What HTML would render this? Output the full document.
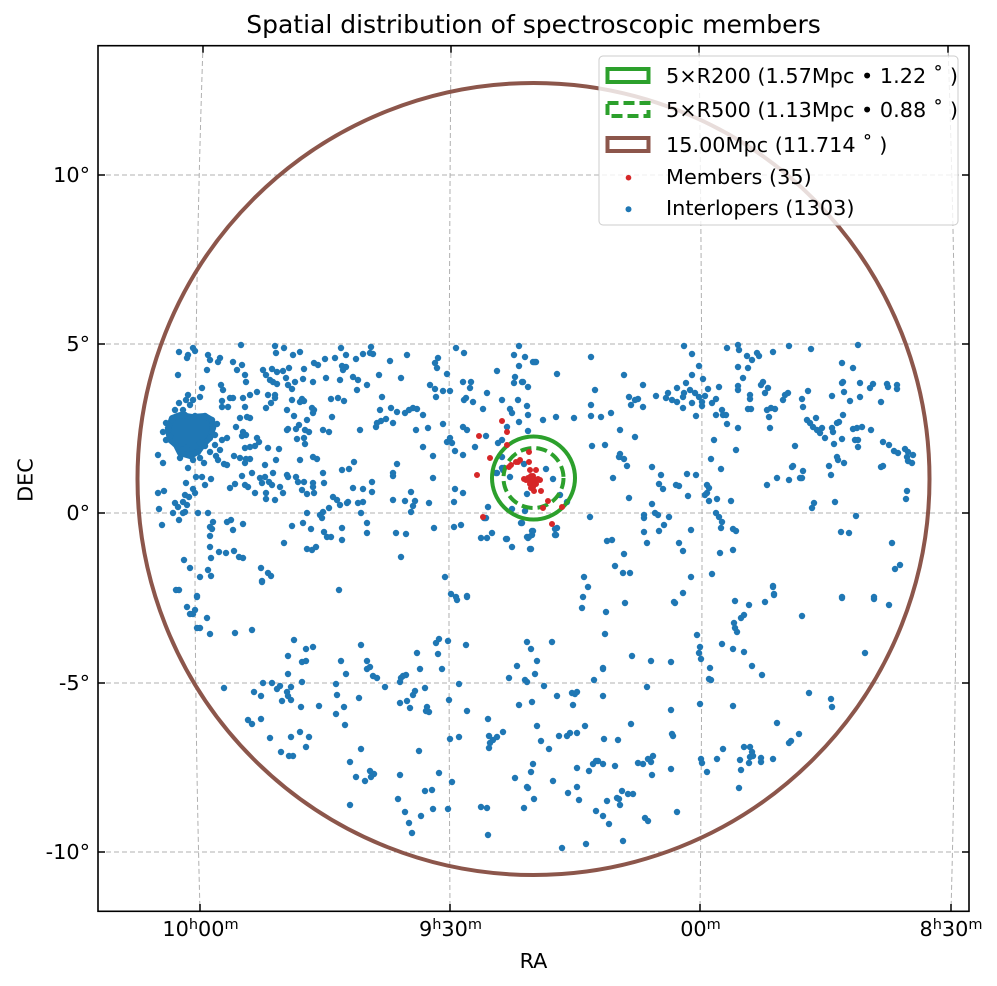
<!DOCTYPE html>
<html><head><meta charset="utf-8"><style>
html,body{margin:0;padding:0;background:#fff;}
svg{display:block;}
text{font-family:"DejaVu Sans","Liberation Sans",sans-serif;fill:#000;}
</style></head><body>
<svg width="997" height="986" viewBox="0 0 997 986" xmlns="http://www.w3.org/2000/svg">
<defs><clipPath id="ax"><rect x="98" y="45.7" width="871" height="866"/></clipPath></defs>
<rect width="997" height="986" fill="#fff"/>
<g clip-path="url(#ax)">
<g stroke="#b0b0b0" stroke-width="1" stroke-dasharray="5 3" fill="none">
<path d="M98 175H969M98 344H969M98 513H969M98 683H969M98 852H969"/>
<path d="M203 45Q188.5 478 200 911"/>
<path d="M451 45Q447.5 478 450 911"/>
<path d="M699 45Q704.5 478 700 911"/>
<path d="M948 45Q962.5 478 951 911"/>
</g>
<path fill="#1f77b4" stroke="#1f77b4" stroke-width="6" stroke-linejoin="round" d="M172 418L180 415L192 417L205 416L212 420L213 428L210 438L203 445L198 452L190 456L180 453L176 445L170 440L168 430Z"/>
<path fill="none" stroke="#1f77b4" stroke-width="6.4" stroke-linecap="round" d="M176 590h.01M179 590h.01M197 596h.01M262 582h.01M339 590h.01M187 607h.01M195 610h.01M190 614h.01M193 614h.01M207 618h.01M197 628h.01M200 628h.01M210 634h.01M235 633h.01M252 630h.01M294 640h.01M288 656h.01M306 649h.01M313 647h.01M302 662h.01M306 661h.01M288 674h.01M302 682h.01M263 683h.01M272 683h.01M224 688h.01M254 692h.01M261 696h.01M277 689h.01M280 686h.01M287 692h.01M291 687h.01M288 696h.01M291 700h.01M282 701h.01M301 707h.01M319 706h.01M361 645h.01M341 661h.01M346 674h.01M367 661h.01M367 669h.01M370 667h.01M373 676h.01M377 678h.01M385 687h.01M336 684h.01M337 695h.01M344 707h.01M359 698h.01M336 714h.01M345 725h.01M248 720h.01M252 724h.01M261 719h.01M270 738h.01M291 737h.01M300 732h.01M309 737h.01M306 747h.01M281 752h.01M289 756h.01M293 756h.01M361 749h.01M350 762h.01M356 777h.01M365 781h.01M370 771h.01M374 774h.01M371 777h.01M350 805h.01M400 775h.01M398 799h.01M405 812h.01M409 823h.01M412 833h.01M421 816h.01M425 791h.01M432 790h.01M433 809h.01M439 773h.01M419 751h.01M400 682h.01M403 676h.01M406 675h.01M401 678h.01M417 653h.01M420 669h.01M425 688h.01M415 691h.01M413 695h.01M407 701h.01M400 703h.01M410 708h.01M427 707h.01M426 711h.01M429 712h.01M436 643h.01M439 639h.01M438 654h.01M442 669h.01M448 641h.01M449 700h.01M459 684h.01M467 711h.01M450 739h.01M459 737h.01M452 782h.01M448 809h.01M466 645h.01M451 594h.01M457 600h.01M467 596h.01M488 719h.01M489 736h.01M493 740h.01M497 737h.01M490 743h.01M489 748h.01M503 732h.01M481 807h.01M487 808h.01M488 835h.01M509 678h.01M517 666h.01M525 680h.01M527 682h.01M527 642h.01M531 649h.01M537 661h.01M535 674h.01M532 702h.01M519 705h.01M537 726h.01M533 764h.01M531 772h.01M515 778h.01M527 787h.01M528 788h.01M534 799h.01M524 808h.01
M588 587h.01M583 597h.01M582 608h.01M606 612h.01M625 603h.01M674 602h.01M675 603h.01M683 593h.01M605 634h.01M697 635h.01M700 647h.01M699 653h.01M701 659h.01M710 668h.01M709 679h.01M711 680h.01M735 601h.01M749 605h.01M765 602h.01M773 586h.01M774 594h.01M744 615h.01M741 618h.01M734 623h.01M735 628h.01M737 632h.01M722 644h.01M733 649h.01M744 652h.01M752 666h.01M762 675h.01M802 616h.01M842 598h.01M874 599h.01M889 605h.01M865 653h.01M809 693h.01M831 699h.01M832 707h.01M777 723h.01M799 734h.01M791 741h.01M789 743h.01M744 747h.01M750 747h.01M752 752h.01M753 756h.01M750 757h.01M761 758h.01M761 762h.01M749 763h.01M740 760h.01M741 770h.01M773 759h.01M739 788h.01M723 749h.01M717 759h.01M701 759h.01M702 763h.01M707 772h.01M700 704h.01M733 706h.01M552 642h.01M544 686h.01M557 696h.01M572 693h.01M575 694h.01M577 692h.01M573 705h.01M603 696h.01M594 680h.01M603 668h.01M603 669h.01M632 656h.01M651 661h.01M671 662h.01M647 687h.01M541 741h.01M549 749h.01M559 736h.01M567 736h.01M570 733h.01M577 733h.01M585 726h.01M604 739h.01M618 740h.01M631 724h.01M671 710h.01M672 734h.01M673 736h.01M553 781h.01M568 793h.01M577 787h.01M579 800h.01M577 768h.01M589 771h.01M593 764h.01M596 761h.01M598 761h.01M603 764h.01M615 766h.01M638 763h.01M643 764h.01M648 759h.01M651 762h.01M653 756h.01M652 775h.01M671 769h.01M622 791h.01M617 798h.01M619 799h.01M620 805h.01M628 794h.01M633 794h.01M607 801h.01M596 811h.01M603 816h.01M609 824h.01M645 818h.01M648 821h.01M677 812h.01M623 841h.01M586 844h.01M562 848h.01
M193 348h.01M179 352h.01M188 355h.01M187 358h.01M195 351h.01M208 355h.01M241 345h.01M275 346h.01M284 348h.01M276 353h.01M293 355h.01M300 352h.01M341 348h.01M346 355h.01M335 358h.01M325 359h.01M356 359h.01M363 354h.01M370 353h.01M371 347h.01M373 354h.01M407 355h.01M390 361h.01M438 358h.01M435 363h.01M437 368h.01M456 348h.01M464 353h.01M519 346h.01M514 355h.01M525 357h.01M535 362h.01M519 366h.01M497 371h.01M515 377h.01M522 382h.01M528 387h.01M514 383h.01M487 393h.01M502 400h.01M518 400h.01M483 409h.01M510 409h.01M527 406h.01M512 413h.01M528 415h.01M519 422h.01M507 427h.01M528 431h.01M463 382h.01M471 382h.01M470 388h.01M473 402h.01M466 398h.01M464 400h.01M447 374h.01M430 385h.01M435 389h.01M443 391h.01M450 391h.01M436 397h.01M463 427h.01M467 430h.01M443 424h.01M450 438h.01M452 443h.01M447 442h.01M455 451h.01M463 455h.01M433 456h.01M423 447h.01M475 447h.01M486 436h.01M498 443h.01M502 440h.01M502 468h.01M496 473h.01M510 477h.01M433 478h.01M455 489h.01M463 493h.01M454 502h.01M488 507h.01M512 509h.01M525 511h.01M486 518h.01M522 523h.01M454 527h.01M461 525h.01M492 533h.01M481 538h.01M487 538h.01M507 539h.01M512 547h.01M528 538h.01M531 549h.01M434 528h.01M445 577h.01M451 594h.01M456 597h.01M467 597h.01M401 557h.01M396 533h.01M406 534h.01M367 523h.01M367 533h.01M361 513h.01M358 503h.01M363 502h.01M348 502h.01M353 488h.01M363 489h.01M372 482h.01M372 492h.01M393 500h.01M405 501h.01M411 492h.01M415 501h.01M413 506h.01M411 512h.01M429 503h.01M393 473h.01M393 476h.01M397 464h.01M354 462h.01M349 469h.01M342 470h.01M416 430h.01M423 415h.01M428 428h.01M393 423h.01M376 427h.01M377 423h.01M381 421h.01M386 419h.01M391 408h.01M397 412h.01M405 413h.01M409 410h.01M413 408h.01M417 409h.01M380 410h.01M382 397h.01M379 375h.01M401 378h.01M360 430h.01M323 430h.01M329 432h.01M332 417h.01M331 399h.01M338 398h.01M344 401h.01M340 380h.01M343 370h.01M342 366h.01M346 367h.01M353 377h.01M358 380h.01M367 385h.01M357 390h.01M314 363h.01M318 365h.01M304 369h.01M326 378h.01M313 382h.01M303 379h.01M295 382h.01M288 385h.01M286 378h.01M277 372h.01M283 371h.01M289 368h.01M272 369h.01M263 370h.01M266 375h.01M273 382h.01M277 384h.01M270 380h.01M292 389h.01M302 399h.01M300 402h.01M304 401h.01M292 400h.01M275 395h.01M275 398h.01M268 395h.01M266 408h.01M271 403h.01M287 410h.01M294 416h.01M312 408h.01M314 410h.01M313 413h.01M307 420h.01M299 425h.01M296 429h.01M305 430h.01M309 432h.01M304 438h.01M297 439h.01M305 444h.01M287 430h.01M288 429h.01M257 392h.01M250 395h.01M243 398h.01M245 407h.01M233 398h.01M230 398h.01M222 401h.01M222 407h.01M228 407h.01M221 385h.01M223 390h.01M202 388h.01M200 397h.01M240 418h.01M247 417h.01M250 418h.01M236 427h.01M243 432h.01M246 435h.01M242 436h.01M257 438h.01M259 442h.01M250 447h.01M255 446h.01M245 448h.01M268 448h.01M279 449h.01M227 438h.01M222 440h.01M215 445h.01M220 450h.01M210 452h.01M216 456h.01M218 460h.01M224 464h.01M227 465h.01M234 456h.01M240 458h.01M246 459h.01M250 459h.01M245 463h.01M276 460h.01M265 465h.01M300 460h.01M313 457h.01M317 459h.01M204 463h.01M200 458h.01M195 453h.01M188 468h.01M242 476h.01M252 473h.01M260 478h.01M265 477h.01M269 482h.01M273 473h.01M262 483h.01M272 485h.01M287 475h.01M288 477h.01M296 477h.01M298 482h.01M304 482h.01M313 483h.01M313 487h.01M302 490h.01M307 494h.01M314 493h.01M323 473h.01M324 483h.01M280 487h.01M283 493h.01M275 500h.01M266 499h.01M266 493h.01M255 493h.01M248 487h.01M245 485h.01M230 488h.01M235 484h.01M211 479h.01M205 485h.01M202 477h.01M196 477h.01M186 483h.01M193 489h.01M195 493h.01M189 497h.01M185 495h.01M183 502h.01M175 503h.01M178 507h.01M187 505h.01M185 512h.01M183 513h.01M173 513h.01M179 520h.01M158 493h.01M164 491h.01M159 509h.01M162 525h.01M158 455h.01M163 463h.01M163 432h.01M198 513h.01M208 513h.01M213 522h.01M210 527h.01M212 529h.01M210 536h.01M210 547h.01M219 552h.01M226 553h.01M234 551h.01M239 557h.01M243 558h.01M227 522h.01M231 520h.01M233 530h.01M243 524h.01M211 558h.01M184 560h.01M190 568h.01M208 570h.01M211 576h.01M200 577h.01M197 597h.01M261 568h.01M268 573h.01M271 576h.01M262 581h.01M284 543h.01M292 526h.01M303 523h.01M311 529h.01M307 549h.01M312 550h.01M316 547h.01M307 513h.01M320 515h.01M323 512h.01M322 518h.01M329 508h.01M333 497h.01M337 500h.01M340 505h.01M324 532h.01M327 537h.01M331 537h.01M342 528h.01M342 540h.01M339 590h.01M347 503h.01M175 410h.01M179 403h.01M186 400h.01M190 405h.01M188 395h.01M193 400h.01M178 375h.01M207 370h.01M210 360h.01M218 362h.01M220 358h.01M233 362h.01M242 365h.01M237 370h.01M245 375h.01M246 382h.01M183 410h.01
M172 420h.01M168 428h.01M170 436h.01M175 444h.01M182 450h.01M190 455h.01M198 452h.01M205 446h.01M210 438h.01M213 428h.01M212 420h.01M205 416h.01M195 416h.01M185 415h.01M178 416h.01M200 443h.01M186 448h.01M215 435h.01M166 440h.01M217 424h.01M166 423h.01M180 458h.01M193 460h.01
M525 357h.01M533 362h.01M536 362h.01M557 374h.01M523 382h.01M591 357h.01M595 390h.01M591 405h.01M591 416h.01M601 417h.01M611 413h.01M574 418h.01M556 417h.01M543 420h.01M592 446h.01M605 445h.01M620 430h.01M635 437h.01M624 375h.01M643 385h.01M620 454h.01M619 457h.01M624 459h.01M627 466h.01M613 478h.01M629 498h.01M652 467h.01M661 475h.01M659 484h.01M663 489h.01M676 485h.01M679 486h.01M687 474h.01M696 475h.01M688 496h.01M652 504h.01M644 515h.01M644 518h.01M655 513h.01M658 515h.01M669 517h.01M664 525h.01M659 531h.01M644 532h.01M647 543h.01M679 543h.01M683 551h.01M691 530h.01M707 485h.01M709 488h.01M707 493h.01M705 495h.01M709 501h.01M717 499h.01M731 501h.01M716 513h.01M719 517h.01M722 522h.01M721 528h.01M733 529h.01M736 531h.01M720 553h.01M733 550h.01M712 574h.01M691 577h.01M683 593h.01M584 577h.01M607 541h.01M612 540h.01M624 554h.01M615 566h.01M623 573h.01M630 573h.01M590 517h.01M555 529h.01M556 535h.01M533 531h.01M532 535h.01M527 537h.01M530 549h.01M684 346h.01M692 354h.01M699 366h.01M692 375h.01M703 379h.01M686 383h.01M677 388h.01M668 393h.01M656 396h.01M666 398h.01M672 400h.01M677 402h.01M683 397h.01M684 393h.01M690 390h.01M695 393h.01M683 408h.01M692 403h.01M702 402h.01M702 406h.01M699 397h.01M708 389h.01M705 396h.01M712 403h.01M719 387h.01M716 399h.01M696 416h.01M716 415h.01M722 410h.01M723 415h.01M726 415h.01M727 424h.01M714 440h.01M738 428h.01M711 459h.01M721 469h.01M736 450h.01M629 397h.01M635 400h.01M631 405h.01M638 399h.01M643 407h.01M727 348h.01M738 345h.01M739 350h.01M747 356h.01M757 353h.01M759 356h.01M752 360h.01M748 368h.01M738 367h.01M743 378h.01M738 386h.01M738 390h.01M750 395h.01M750 399h.01M748 409h.01M751 409h.01M763 382h.01M761 385h.01M768 388h.01M765 393h.01M773 352h.01M789 346h.01M811 349h.01M767 410h.01M771 408h.01M775 409h.01M769 417h.01M770 428h.01M785 395h.01M788 393h.01M783 400h.01M802 399h.01M803 407h.01M808 391h.01M795 446h.01M793 466h.01M792 467h.01M803 471h.01M800 478h.01M802 478h.01M789 480h.01M777 478h.01M767 485h.01M814 503h.01M812 508h.01M835 502h.01M831 475h.01M829 466h.01M837 457h.01M838 460h.01M844 463h.01M834 444h.01M842 439h.01M855 440h.01M858 440h.01M858 447h.01M883 442h.01M889 445h.01M894 451h.01M898 453h.01M905 449h.01M908 452h.01M907 457h.01M908 461h.01M881 467h.01M883 466h.01M807 420h.01M810 423h.01M813 427h.01M816 418h.01M817 430h.01M820 433h.01M822 428h.01M825 438h.01M832 428h.01M833 432h.01M837 423h.01M839 422h.01M843 415h.01M853 429h.01M857 428h.01M862 427h.01M871 430h.01M850 401h.01M860 397h.01M844 392h.01M832 396h.01M842 383h.01M843 382h.01M860 383h.01M870 388h.01M873 384h.01M887 384h.01M888 387h.01M897 385h.01M897 389h.01M881 402h.01M842 363h.01M853 368h.01M858 345h.01M907 491h.01M906 499h.01M856 516h.01M841 532h.01M849 533h.01M892 543h.01M895 569h.01M900 565h.01M842 597h.01M874 597h.01M773 587h.01M774 595h.01M913 455h.01M912 463h.01
M502 457h.01M504 468h.01M503 470h.01M497 473h.01M524 464h.01M546 469h.01M553 479h.01M527 494h.01M560 495h.01M567 502h.01M512 509h.01M525 511h.01M521 523h.01M532 531h.01M529 537h.01M506 539h.01M512 547h.01M530 549h.01M557 528h.01M555 535h.01M488 507h.01M484 518h.01"/>
<circle cx="533.5" cy="479" r="396" fill="none" stroke="#8c564b" stroke-width="4"/>
<circle cx="533.5" cy="478" r="41.5" fill="none" stroke="#2ca02c" stroke-width="4"/>
<circle cx="533.5" cy="478" r="30" fill="none" stroke="#2ca02c" stroke-width="4" stroke-dasharray="11 5"/>
<path fill="none" stroke="#d62728" stroke-width="6" stroke-linecap="round" d="M502 421h.01M507 432h.01M479 436h.01M490 458h.01M477 475h.01M516 462h.01M520 460h.01M529 452h.01M529 462h.01M509 467h.01M530 470h.01M536 470h.01M541 491h.01M548 501h.01M543 508h.01M562 507h.01M483 517h.01M552 524h.01M507 445h.01M511 465h.01M518 462h.01M526 480h.01M529 480h.01M532 480h.01M535 480h.01M538 479h.01M531 476h.01M533 476h.01M530 484h.01M533 484h.01M531 488h.01M533 487h.01M534 491h.01M536 484h.01M528 478h.01M540 480h.01M524 479h.01"/>
</g>
<g stroke="#000" stroke-width="1.5">
<path d="M98 175h7M98 344h7M98 513h7M98 683h7M98 852h7M969 175h-7M969 344h-7M969 513h-7M969 683h-7M969 852h-7"/>
<path d="M200 911v-7M450 911v-7M700 911v-7M951 911v-7M203 45.7v7M451 45.7v7M699 45.7v7M948 45.7v7"/>
</g>
<rect x="98" y="45.7" width="871" height="865.6" fill="none" stroke="#000" stroke-width="1.6"/>
<g font-size="20.8" text-anchor="end">
<text x="90" y="182">10°</text>
<text x="90" y="351">5°</text>
<text x="90" y="520">0°</text>
<text x="90" y="690">-5°</text>
<text x="90" y="859">-10°</text>
</g>
<g font-size="20.8" text-anchor="middle">
<text x="200.5" y="936">10<tspan font-size="14.5" dy="-7">h</tspan><tspan dy="7">00</tspan><tspan font-size="14.5" dy="-7">m</tspan></text>
<text x="450.5" y="936">9<tspan font-size="14.5" dy="-7">h</tspan><tspan dy="7">30</tspan><tspan font-size="14.5" dy="-7">m</tspan></text>
<text x="700.5" y="936">00<tspan font-size="14.5" dy="-7">m</tspan></text>
<text x="951" y="936">8<tspan font-size="14.5" dy="-7">h</tspan><tspan dy="7">30</tspan><tspan font-size="14.5" dy="-7">m</tspan></text>
<text x="533.5" y="968">RA</text>
<text transform="translate(32.5 480) rotate(-90)" x="0" y="0">DEC</text>
</g>
<text x="533.5" y="33" font-size="25" text-anchor="middle">Spatial distribution of spectroscopic members</text>
<rect x="599" y="56" width="359" height="169" rx="4" fill="#fff" fill-opacity="0.8" stroke="#cccccc" stroke-width="1"/>
<rect x="607.5" y="69" width="41" height="13" fill="none" stroke="#2ca02c" stroke-width="4"/>
<rect x="607.5" y="103" width="41" height="13" fill="none" stroke="#2ca02c" stroke-width="4" stroke-dasharray="11 5"/>
<rect x="607.5" y="138" width="41" height="13" fill="none" stroke="#8c564b" stroke-width="4"/>
<circle cx="628.5" cy="177.7" r="2.8" fill="#d62728"/>
<circle cx="628.5" cy="209.3" r="3" fill="#1f77b4"/>
<g font-size="20.8">
<text x="666" y="83">5×R200 (1.57Mpc • 1.22 ˚ )</text>
<text x="666" y="117">5×R500 (1.13Mpc • 0.88 ˚ )</text>
<text x="666" y="152">15.00Mpc (11.714 ˚ )</text>
<text x="666" y="184">Members (35)</text>
<text x="666" y="215">Interlopers (1303)</text>
</g>
</svg>
</body></html>
